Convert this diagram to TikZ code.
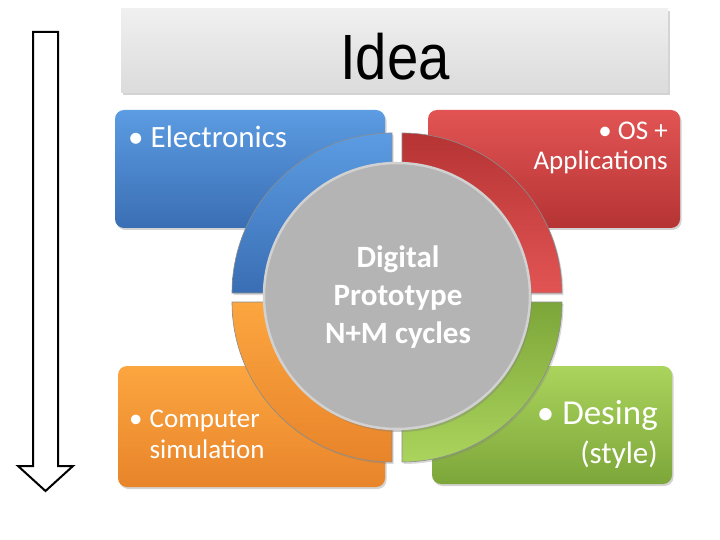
\documentclass[tikz,border=0pt]{standalone}
\usepackage{fontspec}
\setmainfont{Carlito}
\newfontfamily\ideafont{Liberation Sans}
\usetikzlibrary{shadows}
\definecolor{blueT}{HTML}{5C9CE2}
\definecolor{blueB}{HTML}{3A6EB4}
\definecolor{redT}{HTML}{E25454}
\definecolor{redB}{HTML}{B63434}
\definecolor{orT}{HTML}{FCA640}
\definecolor{orB}{HTML}{E8842A}
\definecolor{grT}{HTML}{AAD45C}
\definecolor{grB}{HTML}{7DA63A}
\definecolor{circ}{HTML}{B4B4B4}
\tikzset{
  card/.style={rounded corners=9pt, drop shadow={opacity=0.35, shadow xshift=1.5pt, shadow yshift=-2pt}},
  quad/.style={draw=black!45, line width=0.6pt, drop shadow={opacity=0.3, shadow xshift=1.5pt, shadow yshift=-2pt}},
  wtext/.style={text=white, inner sep=0pt},
}
\begin{document}
\begin{tikzpicture}[x=1pt,y=-1pt]
\useasboundingbox (0,0) rectangle (720,540);
% down arrow
\draw[line width=2pt, line join=miter] (33,32) -- (58,32) -- (58,466) -- (73,466) -- (45.5,491) -- (18,466) -- (33,466) -- cycle;
% Idea box
\shade[top color=white!94!black, bottom color=white!86!black, drop shadow={opacity=0.35, shadow xshift=1.5pt, shadow yshift=-2.5pt}]
  (121,9) rectangle (668,93);
\node[inner sep=0pt, xscale=0.88] (idea) at (395,57) {\ideafont\fontsize{64}{70}\selectfont Idea};
% cards
\shade[card, top color=blueT, bottom color=blueB] (115,110) rectangle (385,228);
\shade[card, top color=redT, bottom color=redB] (428,110) rectangle (680,228);
\shade[card, top color=orT, bottom color=orB] (118,366) rectangle (385,487);
\shade[card, top color=grT, bottom color=grB] (432,366) rectangle (672,484);
% quadrants
\def\Ro{160}\def\Ri{110}
\shade[quad, top color=blueT, bottom color=blueB]
  (392,293) ++(180:\Ro) arc[start angle=180,end angle=270,radius=\Ro] -- ++(0,\Ro-\Ri) arc[start angle=270,end angle=180,radius=\Ri] -- cycle;
\shade[quad, top color=redB, bottom color=redT]
  (402,293) ++(270:\Ro) arc[start angle=270,end angle=360,radius=\Ro] -- ++(-\Ro+\Ri,0) arc[start angle=360,end angle=270,radius=\Ri] -- cycle;
\shade[quad, top color=grB, bottom color=grT]
  (402,302) ++(0:\Ro) arc[start angle=0,end angle=90,radius=\Ro] -- ++(0,-\Ro+\Ri) arc[start angle=90,end angle=0,radius=\Ri] -- cycle;
\shade[quad, top color=orT, bottom color=orB]
  (392,302) ++(90:\Ro) arc[start angle=90,end angle=180,radius=\Ro] -- ++(\Ro-\Ri,0) arc[start angle=180,end angle=90,radius=\Ri] -- cycle;
% centre circle
\fill[circ, draw=white!82!black, line width=2.5pt, drop shadow={opacity=0.4, shadow xshift=2pt, shadow yshift=-3pt}] (397,296) circle[radius=133];
\node[wtext, align=center, font=\bfseries\fontsize{31}{38}\selectfont] (core) at (398,297) {Digital\\Prototype\\N+M cycles};
% card texts
\node[wtext, anchor=west, font=\fontsize{31}{34}\selectfont] (elec) at (128,137) {\textbullet\ Electronics};
\node[wtext, anchor=north east, align=right, font=\fontsize{27}{30}\selectfont] (os) at (668,122) {\textbullet\ OS +\\Applications};
\node[wtext, anchor=west, font=\fontsize{27}{31}\selectfont] (comp) at (129,437)
  {\begin{tabular}{@{}l@{\hspace{7pt}}l@{}}\textbullet & Computer\\ & simulation\end{tabular}};
\node[wtext, anchor=east, font=\fontsize{35}{38}\selectfont] (des) at (658,415) {\textbullet\ Desing};
\node[wtext, anchor=east, font=\fontsize{31}{34}\selectfont] (sty) at (658,455) {(style)};
\end{tikzpicture}
\end{document}
